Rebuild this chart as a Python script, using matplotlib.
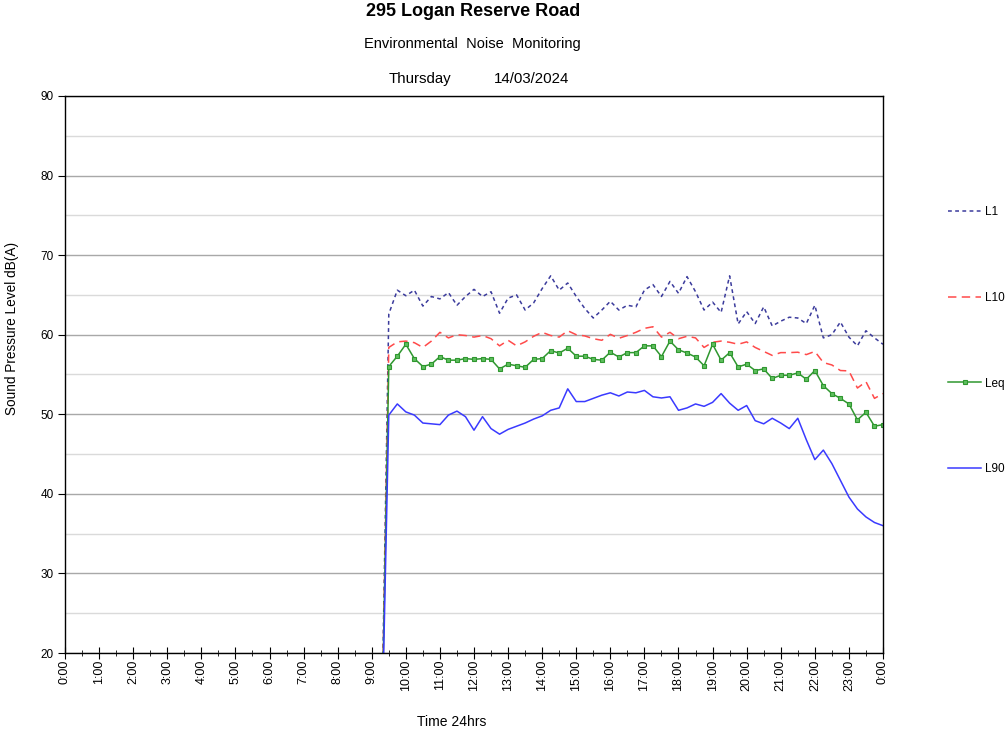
import numpy as np
import matplotlib
matplotlib.use("Agg")
import matplotlib.pyplot as plt
from matplotlib.ticker import MultipleLocator

plt.rcParams['font.family'] = ['Liberation Sans', 'DejaVu Sans']

# 15 minute readings, first reading at 9:15 (meter not yet running -> 0)
START_HOUR = 9.25
STEP_HOURS = 0.25

l1 = [0.0,
      62.6, 65.6, 64.9, 65.6, 63.6, 64.8, 64.5, 65.3, 63.7, 64.8, 65.7, 64.8, 65.4, 62.7, 64.6,
      65.0, 63.1, 64.0, 65.8, 67.4, 65.6, 66.5, 64.8, 63.3, 62.1, 63.1, 64.2, 63.1, 63.7, 63.5,
      65.6, 66.3, 64.8, 66.7, 65.2, 67.3, 65.4, 63.1, 64.1, 62.8, 67.4, 61.35, 62.9, 61.4,
      63.5, 61.1, 61.7, 62.2, 62.1, 61.4, 63.7, 59.6, 60.0, 61.6, 59.7, 58.6, 60.5, 59.6, 58.8]

l10 = [0.0,
       58.4, 59.1, 59.2, 59.0, 58.4, 59.2, 60.3, 59.6, 60.0, 59.9, 59.7, 59.9, 59.5, 58.6, 59.3,
       58.6, 59.1, 59.8, 60.3, 59.9, 59.7, 60.5, 60.0, 59.85, 59.5, 59.3, 60.05, 59.55, 59.9, 60.3,
       60.8, 61.0, 59.7, 60.3, 59.5, 59.8, 59.6, 58.4, 59.05, 59.2, 59.05, 58.8, 59.1, 58.4,
       57.9, 57.4, 57.75, 57.75, 57.8, 57.5, 57.9, 56.5, 56.2, 55.5, 55.45, 53.3, 54.1, 52.0, 52.6]

leq = [0.0,
       56.0, 57.3, 58.8, 57.0, 56.0, 56.3, 57.25, 56.8, 56.8, 57.0, 56.9, 57.0, 56.9, 55.7, 56.3,
       56.1, 55.9, 56.9, 57.0, 58.0, 57.7, 58.3, 57.3, 57.3, 56.9, 56.8, 57.8, 57.2, 57.75, 57.75,
       58.6, 58.6, 57.25, 59.2, 58.1, 57.7, 57.2, 56.1, 58.8, 56.8, 57.75, 55.95, 56.3, 55.5,
       55.7, 54.5, 54.9, 54.9, 55.2, 54.4, 55.5, 53.6, 52.6, 52.0, 51.3, 49.3, 50.25, 48.5, 48.7]

l90 = [0.0,
       49.9, 51.3, 50.3, 49.9, 48.9, 48.8, 48.7, 49.9, 50.4, 49.7, 48.0, 49.7, 48.2, 47.5, 48.1,
       48.5, 48.9, 49.4, 49.8, 50.5, 50.8, 53.2, 51.6, 51.6, 52.0, 52.4, 52.7, 52.3, 52.8, 52.7,
       53.0, 52.2, 52.05, 52.2, 50.5, 50.8, 51.3, 51.0, 51.5, 52.6, 51.4, 50.5, 51.1, 49.2,
       48.8, 49.5, 48.9, 48.2, 49.5, 46.8, 44.3, 45.5, 43.8, 41.7, 39.6, 38.1, 37.1, 36.4, 36.0]

hour_labels = [f'{h}:00' for h in range(24)] + ['0:00']

times = START_HOUR + STEP_HOURS * np.arange(len(l1))

fig = plt.figure(figsize=(10.06, 7.33), dpi=100)
ax = fig.add_axes([65 / 1006, 1 - 653 / 733, (883 - 65) / 1006, (653 - 96) / 733])

ax.plot(times, l1, color='#3b3b9c', linewidth=1.1, dashes=(2.5, 2.2), label='L1')
ax.plot(times, l10, color='#ff4a4a', linewidth=1.1, dashes=(5.5, 3.5), label='L10')
ax.plot(times, leq, color='#2f972f', linewidth=1.1, marker='s', markersize=2.8,
        markerfacecolor='#5fbf5f', markeredgecolor='#2f972f', markeredgewidth=0.8, label='Leq')
ax.plot(times, l90, color='#3a3aff', linewidth=1.1, label='L90')

ax.set_xlim(0, 24)
ax.set_ylim(20, 90)
ax.set_xticks(range(25))
ax.set_xticklabels(hour_labels, rotation=90, fontsize=9)
ax.xaxis.set_minor_locator(MultipleLocator(0.5))
ax.yaxis.set_major_locator(MultipleLocator(10))
ax.yaxis.set_minor_locator(MultipleLocator(5))
ax.tick_params(axis='y', which='major', direction='out', length=5, labelsize=8.5, pad=3)
ax.tick_params(axis='y', which='minor', length=0)
ax.tick_params(axis='x', which='major', direction='inout', length=8, pad=1)
ax.tick_params(axis='x', which='minor', direction='inout', length=4)

ax.set_axisbelow(True)
ax.grid(True, axis='y', which='major', color='#a8a8a8', linewidth=1.0)
ax.grid(True, axis='y', which='minor', color='#dadada', linewidth=1.0)
for sp in ax.spines.values():
    sp.set_color('black')
    sp.set_linewidth(1.0)

fig.text(473 / 1006, 1 - 11 / 733, '295 Logan Reserve Road', ha='center', va='center',
         fontsize=13, fontweight='bold')
fig.text(472 / 1006, 1 - 44 / 733, 'Environmental  Noise  Monitoring', ha='center', va='center',
         fontsize=10.5)
fig.text(420 / 1006, 1 - 79 / 733, 'Thursday', ha='center', va='center', fontsize=10.8)
fig.text(532 / 1006, 1 - 79 / 733, '14/03/2024', ha='center', va='center', fontsize=10.8)

fig.text(12 / 1006, 1 - 328 / 733, 'Sound Pressure Level dB(A)', rotation=90,
         ha='center', va='center', fontsize=9.8)
fig.text(452 / 1006, 1 - 722 / 733, 'Time 24hrs', ha='center', va='center', fontsize=10)

fig.legend(loc='upper left', bbox_to_anchor=(948 / 1006, 1 - 206 / 733), frameon=False,
           fontsize=8.5, handlelength=2.8, handletextpad=0.35, labelspacing=6.25,
           borderpad=0, borderaxespad=0)

fig.savefig('out.png', dpi=100)
